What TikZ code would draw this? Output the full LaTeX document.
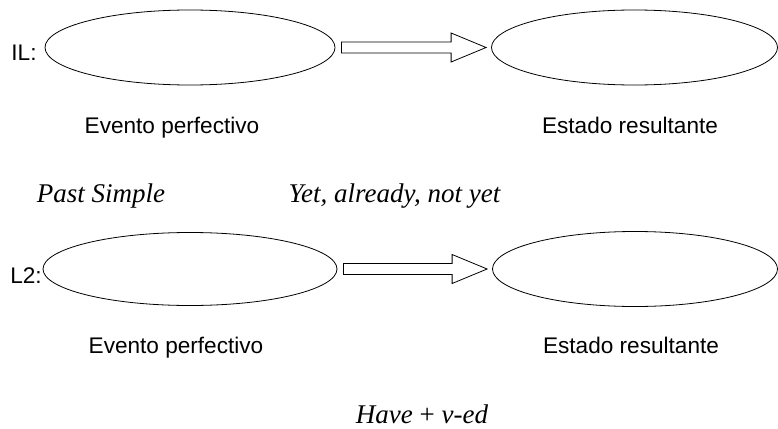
\documentclass[tikz,border=0pt]{standalone}
\usepackage{fontspec}
\setmainfont{Liberation Serif}
\setsansfont{Liberation Sans}
\usetikzlibrary{shapes.geometric,calc}

\newcommand{\blockarrow}[2]{
    \draw[line width=0.8pt] ($(#1.east)+(6,-5.5)$) -- ($(#2.west)+(-40,-5.5)$) -- ($(#2.west)+(-40,-14.5)$)
        -- ($(#2.west)+(-5,0)$) -- ($(#2.west)+(-40,14.5)$) -- ($(#2.west)+(-40,5.5)$)
        -- ($(#1.east)+(6,5.5)$) -- cycle;
}

\begin{document}
\begin{tikzpicture}[x=1pt, y=-1pt]
            \tikzstyle{state}=[ellipse,draw,line width=0.8pt,minimum width=290pt,minimum height=75pt,inner sep=0pt]
            \tikzstyle{lab}=[font=\sffamily\fontsize{22.6}{26}\selectfont,inner sep=0pt]
            \tikzstyle{form}=[font=\rmfamily\itshape\fontsize{27}{30}\selectfont,inner sep=0pt,anchor=base]

            \useasboundingbox (0,0) rectangle (778,428);

            % first row
            \node[lab] (IL) at (24,53) {IL:};
            \node[state] (ev_1) at (190,47.5) {};
            \node[state,minimum width=286pt] (es_1) at (634.5,47.5) {};
            \blockarrow{ev_1}{es_1}
            \node[lab,anchor=base] (evt_1) at (172,133) {Evento perfectivo};
            \node[lab,anchor=base] (est_1) at (630,133) {Estado resultante};

            \node[form] (past) at (101,202) {Past Simple};
            \node[form] (yet) at (394.5,202) {Yet, already, not yet};

            % second row
            \node[lab] (L2) at (26,276) {L2:};
            \node[state,minimum width=294pt,minimum height=73pt] (ev_2) at (190,269) {};
            \node[state,minimum width=285pt] (es_2) at (635,269) {};
            \blockarrow{ev_2}{es_2}
            \node[lab,anchor=base] (evt_2) at (176,353) {Evento perfectivo};
            \node[lab,anchor=base] (est_2) at (631,353) {Estado resultante};

            \node[form] (have) at (422,423) {Have {\upshape+} v-ed};
        \end{tikzpicture}
\end{document}
